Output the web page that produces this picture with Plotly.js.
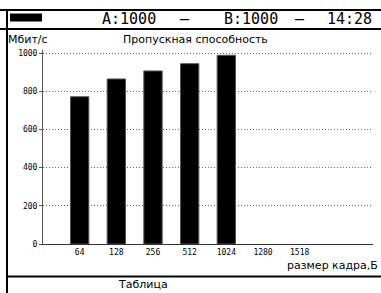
<!DOCTYPE html>
<html>
<head>
<meta charset="utf-8">
<script src="https://cdn.plot.ly/plotly-3.0.1.min.js"></script>
<style>html,body{margin:0;padding:0;background:#fff;}#chart{width:381px;height:293px;}</style>
</head>
<body>
<div id="chart"></div>
<script>
const frameSizes = ["64", "128", "256", "512", "1024", "1280", "1518"];
const throughput = [771, 864, 906, 944, 988, null, null];
const yTicks = [0, 200, 400, 600, 800, 1000];

const W = 381, H = 293;
const L = 43, R = 373, T = 50, B = 244;
const px = x => (x - L) / (R - L);
const py = y => (B - y) / (B - T);

const mono = "DejaVu Sans Mono";
const sans = "DejaVu Sans";

const shapes = [
  {type:'line', xref:'paper', yref:'paper', x0:px(0), x1:px(381), y0:py(10), y1:py(10), line:{color:'#000', width:2}},
  {type:'line', xref:'paper', yref:'paper', x0:px(0), x1:px(381), y0:py(29), y1:py(29), line:{color:'#000', width:2}},
  {type:'line', xref:'paper', yref:'paper', x0:px(7), x1:px(7), y0:py(10), y1:py(293), line:{color:'#000', width:2}},
  {type:'line', xref:'paper', yref:'paper', x0:px(7), x1:px(381), y0:py(276.5), y1:py(276.5), line:{color:'#000', width:2}},
  {type:'rect', xref:'paper', yref:'paper', x0:px(10), x1:px(42), y0:py(13.5), y1:py(21.5), fillcolor:'#000', line:{width:0}}
];

function ann(text, x, y, size, family, anchor, color) {
  return {text:text, xref:'paper', yref:'paper', x:px(x), y:py(y), xanchor:anchor||'left', yanchor:'middle',
    showarrow:false, font:{family:family, size:size, color:color||'#000'}};
}

const annotations = [
  ann('A:1000', 100, 19.5, 15, mono),
  ann('—', 185, 19.5, 15, mono, 'center'),
  ann('B:1000', 222, 19.5, 15, mono),
  ann('—', 300, 19.5, 15, mono, 'center'),
  ann('14:28', 374, 19.5, 15, mono, 'right'),
  ann('Мбит/с', 6, 39, 11, sans),
  ann('Пропускная способность', 195, 39, 11, sans, 'center'),
  ann('размер кадра,Б', 380, 265, 11, sans, 'right'),
  ann('Таблица', 143, 284, 11, sans, 'center')
];

const data = [{
  type:'bar', x:frameSizes, y:throughput, width:0.5,
  marker:{color:'#000', line:{color:'#555', width:1}},
  hoverinfo:'skip'
}];

const layout = {
  width:W, height:H,
  margin:{l:L, r:W-R, t:T, b:H-B, pad:0},
  paper_bgcolor:'#fff', plot_bgcolor:'#fff',
  showlegend:false,
  xaxis:{type:'category', range:[-1, 8], showgrid:false, zeroline:false,
    showline:true, linecolor:'#333', linewidth:1, ticks:'',
    tickfont:{family:mono, size:8, color:'#000'}, fixedrange:true},
  yaxis:{range:[0, 1000*(B-T)/(B-53)], tickvals:yTicks, ticktext:yTicks.map(String),
    showgrid:true, gridcolor:'#666', griddash:'1px,2px', gridwidth:1, zeroline:false,
    showline:true, linecolor:'#555', linewidth:1, ticks:'outside', ticklen:3, tickcolor:'#555',
    tickfont:{family:mono, size:8, color:'#000'}, fixedrange:true},
  shapes:shapes, annotations:annotations
};

Plotly.newPlot('chart', data, layout, {staticPlot:true, displayModeBar:false});
</script>
</body>
</html>
